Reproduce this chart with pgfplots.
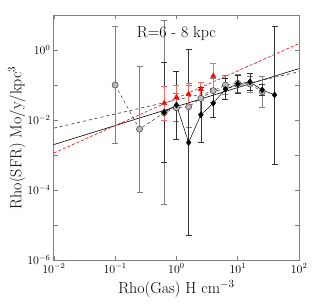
\documentclass[border=0pt]{standalone}
\usepackage{pgfplots}
\pgfplotsset{compat=1.18}
\usepackage{pgfplotstable}

% gray series: x y lo hi
\pgfplotstableread{
x y lo hi
0.1 0.1 0.00209 4.79
0.25 0.0055 0.000089 0.339
0.63 0.0162 0.000038 6.9
1.0 0.0224 0.0089 0.056
1.58 0.024 0.00603 0.0955
2.5 0.0417 0.0148 0.117
3.98 0.069 0.031 0.155
6.3 0.1 0.0525 0.19
10 0.112 0.0617 0.204
15.8 0.107 0.063 0.182
25 0.0646 0.0229 0.182
}\graydata

\pgfplotstableread{
x y lo hi
0.63 0.0166 0.00062 0.447
1.0 0.0269 0.00288 0.251
1.58 0.00229 0.000005 1.05
2.5 0.0141 0.00229 0.087
3.98 0.0302 0.012 0.076
6.3 0.0759 0.038 0.151
10 0.107 0.060 0.19
15.8 0.123 0.069 0.219
25 0.0724 0.0513 0.102
39.8 0.0525 0.00056 4.9
}\blackdata

\pgfplotstableread{
x y lo hi
0.63 0.0302 0.01 0.0912
1.0 0.0447 0.02 0.1
1.58 0.055 0.0275 0.11
2.5 0.0759 0.0479 0.12
3.98 0.182 0.0794 0.417
}\reddata

\begin{document}
\begin{tikzpicture}
\begin{axis}[
  scale only axis,
  width=246pt, height=246pt,
  xmode=log, ymode=log,
  xmin=0.01, xmax=100, ymin=1e-6, ymax=10,
  xtick={0.01,0.1,1,10,100},
  ytick={1e-6,1e-4,1e-2,1},
  minor ytick={1e-5,1e-3,1e-1,10},
  xminorticks=false,
  tick align=inside,
  major tick length=4pt, minor tick length=4pt,
  axis line style={gray, line width=0.8pt},
  tick style={gray, line width=0.6pt},
  ticklabel style={font=\fontsize{12}{14}\selectfont},
  label style={font=\fontsize{16}{19}\selectfont},
  xlabel={Rho(Gas) H cm$^{-3}$},
  ylabel={Rho(SFR) Mo/y/kpc$^{3}$},
  ylabel style={yshift=-5pt},
  clip=true,
]
% fit lines
\addplot[black, line width=0.6pt] coordinates {(0.01,0.0020) (100,0.295)};
\addplot[black!80, dashed, line width=0.6pt] coordinates {(0.01,0.00589) (100,0.24)};
\addplot[red, densely dashed, line width=0.6pt] coordinates {(0.01,0.00115) (100,1.53)};

% gray circles
\addplot[gray!40!black, dashed, line width=0.5pt,
  mark=*, mark size=3.1pt, mark options={solid, fill=gray!55, draw=gray!50!black, line width=0.5pt},
  error bars/.cd, y dir=both, y explicit,
  error bar style={gray, solid, line width=0.8pt},
  error mark options={rotate=90, mark size=3pt, gray, line width=0.8pt}]
  table[x=x, y=y, y error plus expr=\thisrow{hi}-\thisrow{y}, y error minus expr=\thisrow{y}-\thisrow{lo}] {\graydata};

% black diamonds
\addplot[black, line width=0.5pt,
  mark=diamond*, mark size=3pt, mark options={solid, fill=black},
  error bars/.cd, y dir=both, y explicit,
  error bar style={black!80, solid, line width=0.6pt},
  error mark options={rotate=90, mark size=3pt, black!80, line width=0.6pt}]
  table[x=x, y=y, y error plus expr=\thisrow{hi}-\thisrow{y}, y error minus expr=\thisrow{y}-\thisrow{lo}] {\blackdata};

% red triangles
\addplot[red, only marks,
  mark=triangle*, mark size=3pt, mark options={solid, fill=red},
  error bars/.cd, y dir=both, y explicit,
  error bar style={red!60, solid, line width=0.8pt},
  error mark options={rotate=90, mark size=3pt, red!60, line width=0.8pt}]
  table[x=x, y=y, y error plus expr=\thisrow{hi}-\thisrow{y}, y error minus expr=\thisrow{y}-\thisrow{lo}] {\reddata};

\node[font=\fontsize{16}{19}\selectfont] at (rel axis cs:0.5,0.925) {R=6 - 8 kpc};
\end{axis}
\pgfresetboundingbox
\path[use as bounding box] ([xshift=-54pt,yshift=-45pt]current axis.south west) rectangle ([xshift=28pt,yshift=15pt]current axis.north east);
\end{tikzpicture}
\end{document}
